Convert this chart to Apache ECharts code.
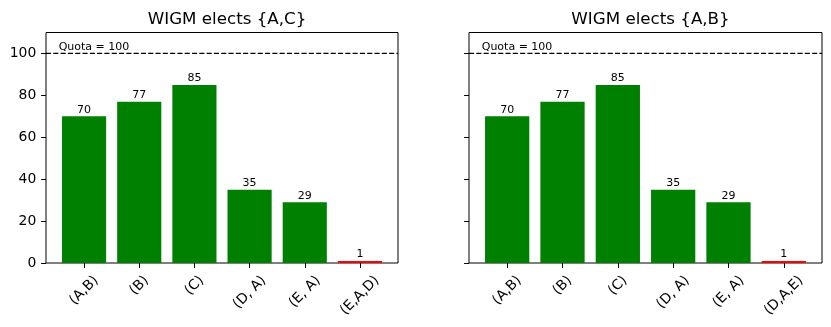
<!DOCTYPE html>
<html>
<head>
<meta charset="utf-8">
<script src="https://cdn.jsdelivr.net/npm/echarts@6/dist/echarts.min.js"></script>
<style>html,body{margin:0;padding:0;background:#fff}#c{width:831px;height:327px}</style>
</head>
<body>
<div id="c"></div>
<script>
const titles = ['WIGM elects {A,C}', 'WIGM elects {A,B}'];
const categoriesLeft = ['(A,B)', '(B)', '(C)', '(D, A)', '(E, A)', '(E,A,D)'];
const categoriesRight = ['(A,B)', '(B)', '(C)', '(D, A)', '(E, A)', '(D,A,E)'];
const votesLeft = [70, 77, 85, 35, 29, 1];
const votesRight = [70, 77, 85, 35, 29, 1];
const yTicks = [0, 20, 40, 60, 80, 100];
const quota = 100;
const yMax = 110;

const FONT = '"DejaVu Sans", sans-serif';
const chart = echarts.init(document.getElementById('c'), null, {renderer: 'canvas'});

const grids = [
  {left: 46, top: 32.5, width: 352, height: 230.5},
  {left: 469, top: 32.5, width: 353, height: 230.5}
];
const xMin = -0.69, xMax = 5.69;
const catSets = [categoriesLeft, categoriesRight];
const valSets = [votesLeft, votesRight];

function barData(vals) {
  const mn = Math.min(...vals);
  return vals.map((v, i) => ({
    value: [i, v],
    itemStyle: {color: v === mn ? '#ff0000' : '#008000'}
  }));
}

const series = [];
grids.forEach((g, k) => {
  series.push({
    type: 'bar', xAxisIndex: k, yAxisIndex: k,
    barWidth: g.width * 0.8 / (xMax - xMin),
    data: barData(valSets[k]),
    label: {show: true, position: 'top', distance: 1, fontFamily: FONT, fontSize: 11, color: '#000', lineHeight: 11,
      formatter: p => String(p.value[1])}
  });
  series.push({
    type: 'line', xAxisIndex: k, yAxisIndex: k, silent: true, symbol: 'none',
    lineStyle: {color: '#000', type: [5.1, 2.2], width: 1.3},
    data: [[xMin, quota], [xMax, quota]]
  });
});

const tickStyle = {show: true, inside: false, length: 4.9, lineStyle: {color: '#000', width: 1}};

const option = {
  animation: false,
  backgroundColor: '#fff',
  title: grids.map((g, k) => ({
    text: titles[k],
    left: g.left + g.width / 2,
    textAlign: 'center',
    top: 6,
    textStyle: {fontFamily: FONT, fontSize: 16.7, fontWeight: 'normal', color: '#000'}
  })),
  grid: grids.map(g => Object.assign({show: true, borderColor: '#000', borderWidth: 1, backgroundColor: 'transparent'}, g)),
  xAxis: grids.map((g, k) => ({
    type: 'value', gridIndex: k, min: xMin, max: xMax,
    axisLine: {show: false, onZero: false},
    axisTick: Object.assign({customValues: catSets[k].map((c, i) => i)}, tickStyle),
    axisLabel: {show: false},
    splitLine: {show: false}
  })),
  yAxis: grids.map((g, k) => ({
    type: 'value', gridIndex: k, min: yTicks[0], max: yMax, interval: yTicks[1] - yTicks[0],
    axisLine: {show: false, onZero: false},
    axisTick: Object.assign({customValues: yTicks}, tickStyle),
    axisLabel: {show: k === 0, showMaxLabel: false, margin: 9.7, fontFamily: FONT, fontSize: 13.9, color: '#000'},
    splitLine: {show: false}
  })),
  series: series
};
chart.setOption(option);

function addTexts() {
  const ctx = document.createElement('canvas').getContext('2d');
  const fs = 13.9;
  ctx.font = fs + 'px ' + FONT;
  const elems = [];
  catSets.forEach((cats, k) => {
    cats.forEach((c, i) => {
      const p = chart.convertToPixel({gridIndex: k}, [i, 0]);
      const w = ctx.measureText(c).width;
      const h = 16;
      const half = (w + h) * Math.SQRT1_2 / 2;
      elems.push({
        type: 'text', x: p[0], y: p[1] + 9.7 + half, rotation: Math.PI / 4, silent: true,
        style: {text: c, fontFamily: FONT, fontSize: fs, fill: '#000', align: 'center', verticalAlign: 'middle'}
      });
    });
    const q = chart.convertToPixel({gridIndex: k}, [-0.46, quota]);
    elems.push({
      type: 'text', x: q[0], y: q[1] - 1, silent: true,
      style: {text: 'Quota = ' + quota, fontFamily: FONT, fontSize: 11, fill: '#000', align: 'left', verticalAlign: 'bottom'}
    });
  });
  chart.setOption({graphic: elems});
}
addTexts();
</script>
</body>
</html>
